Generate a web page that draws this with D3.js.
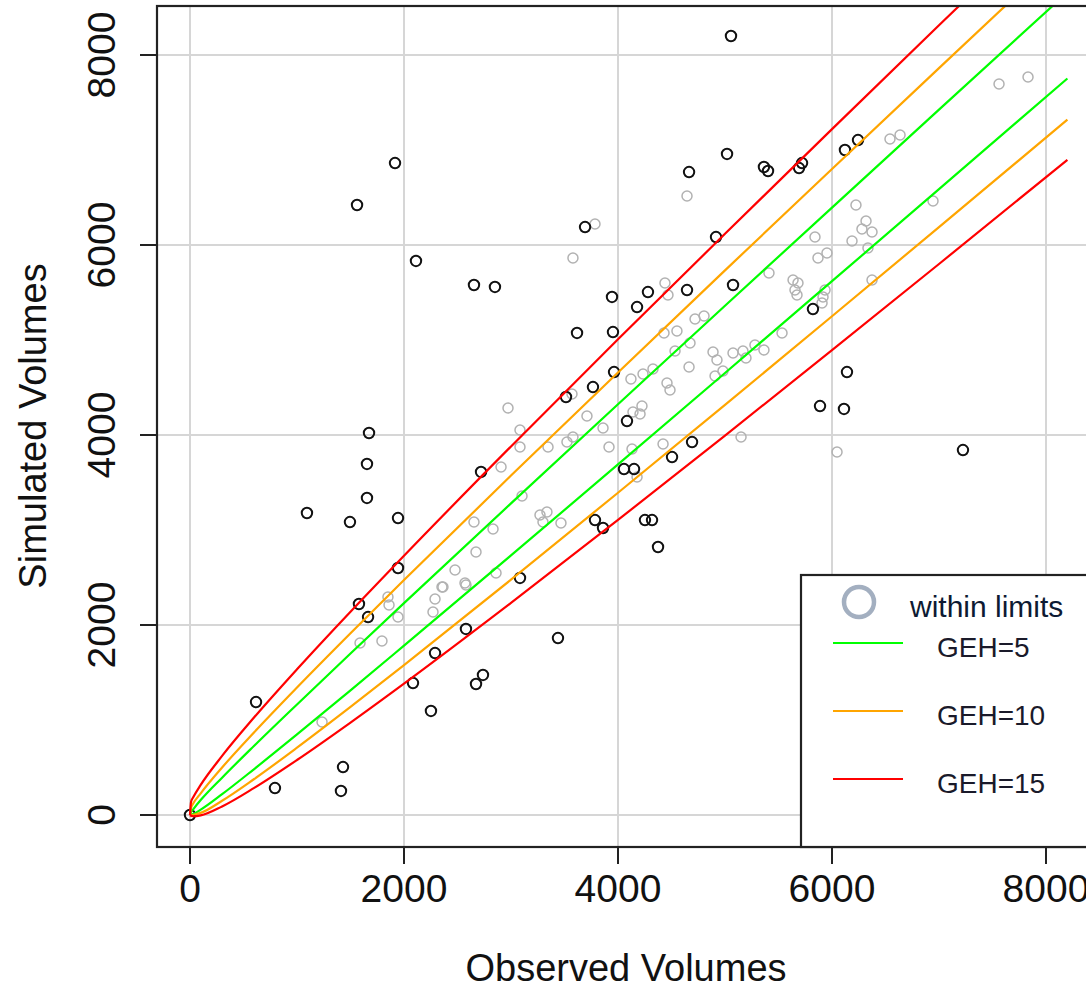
<!DOCTYPE html>
<html lang="en">
<head>
    <meta charset="UTF-8">
    <title>GEH scatter</title>
    <script src="https://d3js.org/d3.v7.min.js"></script>
    <style>
        body { margin: 0; background: #fff; }
        text { font-family: "Liberation Sans", Arial, sans-serif; }
    </style>
</head>
<body>
    <svg id="chart"></svg>

    <script>
        // Observed volumes at which the GEH limit curves were read
        var curveObs = [0, 10, 30, 100, 300, 600, 1000, 1500, 2000, 3000, 4000, 5000, 6000, 7000, 8200];
        var geh5Upper = [0, 30, 60, 157, 393, 729, 1164, 1700, 2230, 3280, 4323, 5360, 6394, 7425, 8659];
        var geh5Lower = [0, 2, 10, 56, 219, 484, 848, 1312, 1783, 2732, 3690, 4653, 5619, 6588, 7753];
        var geh10Upper = [0, 75, 120, 228, 500, 871, 1342, 1913, 2473, 3573, 4658, 5733, 6800, 7862, 9131];
        var geh10Lower = [0, -3, 2, 22, 150, 379, 708, 1137, 1577, 2477, 3392, 4317, 5250, 6188, 7319];
        var geh15Upper = [0, 140, 186, 317, 622, 1028, 1534, 2140, 2729, 3880, 5007, 6118, 7220, 8313, 9616];
        var geh15Lower = [0, -7, -13, -4, 90, 285, 579, 973, 1383, 2233, 3106, 3994, 4893, 5800, 6897];

        // points outside the limits (black)
        var outObs = [1916, 1561, 2112, 2654, 2850, 5056, 5019, 4664, 5364, 5402, 5720, 5692, 6121, 6243,
            3692, 3944, 4916, 4280, 4645, 5075, 4178, 3617, 3953, 3963, 3766, 3514, 4084, 4692, 4505,
            4056, 4150, 2720, 3785, 3860, 4252, 4318, 4374, 3084, 1673, 1654, 1654, 1093, 1495, 1944,
            1944, 1579, 1664, 2579, 2290, 2084, 2252, 617, 1430, 794, 1411, 0, 3439, 2738, 2673,
            5822, 6140, 5888, 6112, 7224];
        var outSim = [6863, 6421, 5832, 5579, 5558, 8200, 6958, 6768, 6821, 6779, 6863, 6810, 7000, 7105,
            6189, 5453, 6084, 5505, 5526, 5579, 5347, 5074, 5084, 4663, 4505, 4400, 4147, 3926, 3768,
            3642, 3642, 3611, 3105, 3021, 3105, 3105, 2821, 2495, 4021, 3695, 3337, 3179, 3084, 3126,
            2600, 2221, 2084, 1958, 1705, 1389, 1095, 1189, 505, 284, 253, 0, 1863, 1474, 1379,
            5326, 4663, 4305, 4274, 3842];

        // points within limits (grey)
        var inObs = [4645, 3785, 3579, 4439, 5411, 4467, 4430, 4551, 4720, 4804, 4673, 4533, 4888, 4925,
            5075, 5168, 5280, 5364, 5196, 4664, 4907, 4981, 4121, 4234, 4327, 4458, 4486, 3570, 2972,
            3710, 4140, 4224, 4206, 3860, 3084, 3579, 3523, 3084, 3346, 3916, 4131, 4421, 5150, 4178,
            2907, 3103, 3271, 3336, 3299, 3467, 2654, 2832, 2673, 2860, 2477, 2355, 2570, 1850, 1860,
            1944, 1589, 1794, 2364, 2290, 2271, 2579, 1234, 6047, 7561, 7832, 6542, 6636, 6944, 6224,
            6318, 6280, 6374, 5841, 6187, 5953, 5869, 6336, 5636, 5682, 5654, 5673, 5935, 5916, 6374,
            5533, 5907];
        var inSim = [6516, 6221, 5863, 5600, 5705, 5474, 5074, 5095, 5221, 5253, 4968, 4884, 4874, 4789,
            4863, 4884, 4947, 4895, 4811, 4716, 4621, 4674, 4589, 4642, 4695, 4547, 4474, 4432, 4284,
            4200, 4242, 4305, 4221, 4074, 4053, 3979, 3926, 3874, 3874, 3874, 3853, 3905, 3979, 3558,
            3663, 3358, 3158, 3189, 3084, 3074, 3084, 3011, 2768, 2547, 2579, 2400, 2442, 2295, 2211,
            2084, 1811, 1832, 2400, 2274, 2137, 2421, 979, 3821, 7695, 7768, 7116, 7158, 6463, 6421,
            6253, 6168, 6137, 6084, 6042, 5916, 5863, 5968, 5632, 5600, 5526, 5474, 5526, 5453, 5632,
            5074, 5389];

        var ticks = [0, 2000, 4000, 6000, 8000];
        var legendLabels = ['GEH=5', 'GEH=10', 'GEH=15'];
        var legendColors = ['#00ff00', '#ffa500', '#ff0000'];

        var width = 1086, height = 985;
        var svg = d3.select('#chart').attr('width', width).attr('height', height);

        var x = d3.scaleLinear().domain([0, 8000]).range([190, 1046]);
        var y = d3.scaleLinear().domain([0, 8000]).range([815, 55]);

        // plot region (R usr extent)
        var x0 = 157, x1 = 1100, y0 = 6, y1 = 847;

        svg.append('clipPath').attr('id', 'plotclip')
            .append('rect').attr('x', x0).attr('y', y0).attr('width', x1 - x0).attr('height', y1 - y0);

        // grid
        var grid = svg.append('g');
        grid.selectAll('.gx').data(ticks).enter().append('line')
            .attr('x1', d => x(d)).attr('x2', d => x(d)).attr('y1', y0).attr('y2', y1)
            .attr('stroke', '#d6d6d6').attr('stroke-width', 2);
        grid.selectAll('.gy').data(ticks).enter().append('line')
            .attr('y1', d => y(d)).attr('y2', d => y(d)).attr('x1', x0).attr('x2', x1)
            .attr('stroke', '#d6d6d6').attr('stroke-width', 2);

        // points
        var plot = svg.append('g').attr('clip-path', 'url(#plotclip)');
        plot.selectAll('.in').data(d3.range(inObs.length)).enter().append('circle')
            .attr('cx', i => x(inObs[i])).attr('cy', i => y(inSim[i])).attr('r', 5)
            .attr('fill', 'none').attr('stroke', '#b2b2b2').attr('stroke-width', 1.5);
        plot.selectAll('.out').data(d3.range(outObs.length)).enter().append('circle')
            .attr('cx', i => x(outObs[i])).attr('cy', i => y(outSim[i])).attr('r', 5.2)
            .attr('fill', 'none').attr('stroke', '#111').attr('stroke-width', 2);

        // GEH curves
        var line = d3.line().x(d => x(d[0])).y(d => y(d[1])).curve(d3.curveMonotoneX);
        var curves = [
            [geh5Upper, '#00ff00'], [geh5Lower, '#00ff00'],
            [geh10Upper, '#ffa500'], [geh10Lower, '#ffa500'],
            [geh15Upper, '#ff0000'], [geh15Lower, '#ff0000']
        ];
        curves.forEach(function (c) {
            plot.append('path')
                .datum(curveObs.map((o, i) => [o, c[0][i]]))
                .attr('d', line)
                .attr('fill', 'none').attr('stroke', c[1]).attr('stroke-width', 2.2);
        });

        // box
        svg.append('rect').attr('x', x0).attr('y', y0).attr('width', x1 - x0).attr('height', y1 - y0)
            .attr('fill', 'none').attr('stroke', '#222').attr('stroke-width', 2.2);

        // axes ticks
        svg.selectAll('.tx').data(ticks).enter().append('line')
            .attr('x1', d => x(d)).attr('x2', d => x(d)).attr('y1', y1).attr('y2', y1 + 17)
            .attr('stroke', '#222').attr('stroke-width', 2);
        svg.selectAll('.ty').data(ticks).enter().append('line')
            .attr('y1', d => y(d)).attr('y2', d => y(d)).attr('x1', x0).attr('x2', x0 - 17)
            .attr('stroke', '#222').attr('stroke-width', 2);

        svg.selectAll('.lx').data(ticks).enter().append('text')
            .attr('x', d => x(d)).attr('y', 902)
            .attr('text-anchor', 'middle').attr('font-size', 39).attr('fill', '#111')
            .text(d => d);
        svg.selectAll('.ly').data(ticks).enter().append('text')
            .attr('transform', d => 'translate(115,' + y(d) + ') rotate(-90)')
            .attr('text-anchor', 'middle').attr('font-size', 39).attr('fill', '#111')
            .text(d => d);

        svg.append('text').attr('x', 626).attr('y', 981)
            .attr('text-anchor', 'middle').attr('font-size', 38).attr('fill', '#111')
            .text('Observed Volumes');
        svg.append('text')
            .attr('transform', 'translate(46,' + 426 + ') rotate(-90)')
            .attr('text-anchor', 'middle').attr('font-size', 38).attr('fill', '#111')
            .text('Simulated Volumes');

        // legend
        var lg = svg.append('g');
        lg.append('rect').attr('x', 801).attr('y', 575).attr('width', 320).attr('height', y1 - 575)
            .attr('fill', '#fff').attr('stroke', '#222').attr('stroke-width', 2.2);
        lg.append('circle').attr('cx', 859).attr('cy', 602).attr('r', 15)
            .attr('fill', 'none').attr('stroke', '#a3afc0').attr('stroke-width', 4.5);
        lg.append('text').attr('x', 910).attr('y', 617).attr('font-size', 30).attr('fill', '#0d1a33')
            .text('within limits');
        legendLabels.forEach(function (lab, i) {
            var ly = 643 + i * 68;
            lg.append('line').attr('x1', 833).attr('x2', 903).attr('y1', ly).attr('y2', ly)
                .attr('stroke', legendColors[i]).attr('stroke-width', 2);
            lg.append('text').attr('x', 937).attr('y', ly + 14).attr('font-size', 28).attr('fill', '#1a1a2a')
                .text(lab);
        });
    </script>
</body>
</html>
